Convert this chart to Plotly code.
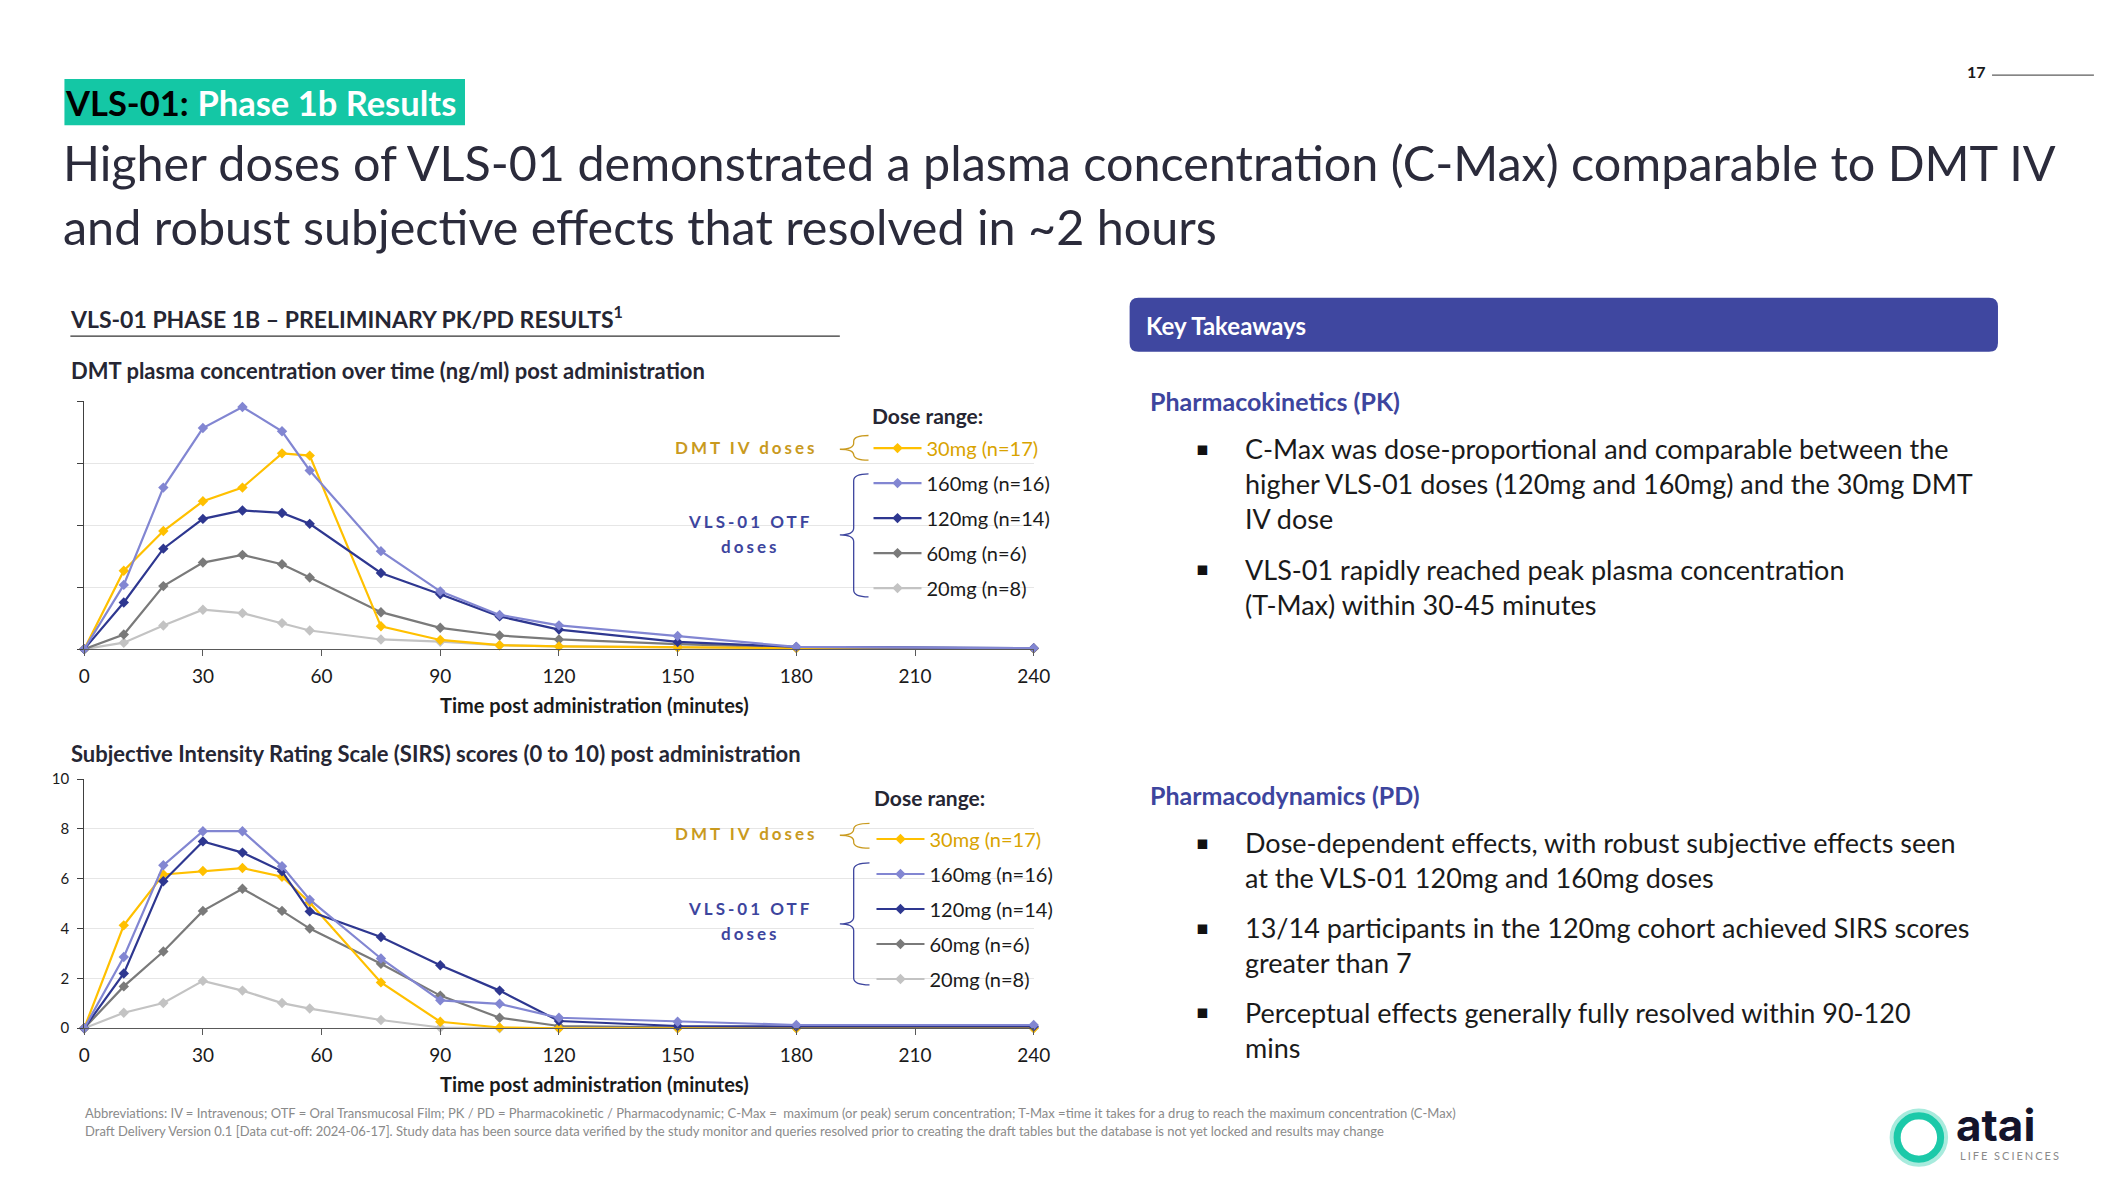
import plotly.graph_objects as go

# --- data ---
minutes = [0, 10, 20, 30, 40, 50, 57, 75, 90, 105, 120, 150, 180, 240]

dose_names = ["30mg (n=17)", "160mg (n=16)", "120mg (n=14)", "60mg (n=6)", "20mg (n=8)"]
dose_colors = ["#FFC000", "#8286D2", "#2E3790", "#7A7A7A", "#C3C3C3"]

# DMT plasma concentration (axis has no printed values, scale 0-100)
pk_30 = [0, 31.6, 47.6, 59.6, 65.1, 78.9, 78.0, 9.2, 3.7, 1.6, 1.1, 0.7, 0.4, 0.3]
pk_160 = [0, 25.9, 65.1, 89.1, 97.6, 87.8, 72.0, 39.5, 23.3, 13.8, 9.6, 5.3, 0.9, 0.4]
pk_120 = [0, 18.8, 40.5, 52.5, 55.9, 54.9, 50.5, 30.7, 22.1, 13.2, 7.9, 2.9, 0.9, 0.4]
pk_60 = [0, 5.9, 25.4, 34.9, 38.0, 34.2, 28.9, 14.9, 8.6, 5.5, 3.9, 2.0, 0.7, 0.3]
pk_20 = [0, 2.6, 9.5, 15.9, 14.5, 10.5, 7.5, 3.9, 3.0, 1.6, 1.1, 0.7, 0.4, 0.3]

# SIRS scores (0 to 10)
sirs_30 = [0, 4.13, 6.17, 6.31, 6.43, 6.08, 5.05, 1.84, 0.26, 0.03, 0, 0, 0, 0]
sirs_160 = [0, 2.86, 6.54, 7.91, 7.91, 6.5, 5.16, 2.8, 1.12, 0.98, 0.42, 0.26, 0.13, 0.13]
sirs_120 = [0, 2.2, 5.9, 7.5, 7.05, 6.3, 4.69, 3.66, 2.53, 1.51, 0.29, 0.09, 0.07, 0.07]
sirs_60 = [0, 1.68, 3.08, 4.71, 5.6, 4.71, 4.0, 2.59, 1.31, 0.42, 0.09, 0.04, 0.04, 0.04]
sirs_20 = [0, 0.62, 1.01, 1.9, 1.51, 1.01, 0.79, 0.33, 0.03, 0, 0, 0, 0, 0]

pk_series = [pk_30, pk_160, pk_120, pk_60, pk_20]
sirs_series = [sirs_30, sirs_160, sirs_120, sirs_60, sirs_20]

W, H = 2111, 1187
# the page body keeps its 8px margin, so the figure is drawn 16px smaller
FW, FH = W - 16, H - 16
FONT = "Lato"
NAVY = "#3D459E"
GOLD = "#C99A1E"
DARK = "#262633"


def px(x):
    return (x - 8) / FW


def py(y):
    return 1 - (y - 8) / FH


fig = go.Figure()

# draw order: light ones first, legend order by rank
draw_order = [4, 3, 0, 2, 1]
for i in draw_order:
    txt_col = "#D9A300" if i == 0 else "#1a1a1a"
    fig.add_trace(go.Scatter(
        x=minutes, y=pk_series[i], mode="lines+markers",
        name=f"<span style='color:{txt_col}'>{dose_names[i]}</span>",
        line=dict(color=dose_colors[i], width=2.2),
        marker=dict(symbol="diamond", size=8, color=dose_colors[i]),
        legend="legend", legendgroup=f"pk{i}", legendrank=i + 1,
        cliponaxis=False, xaxis="x", yaxis="y"))
for i in draw_order:
    txt_col = "#D9A300" if i == 0 else "#1a1a1a"
    fig.add_trace(go.Scatter(
        x=minutes, y=sirs_series[i], mode="lines+markers",
        name=f"<span style='color:{txt_col}'>{dose_names[i]}</span>",
        line=dict(color=dose_colors[i], width=2.2),
        marker=dict(symbol="diamond", size=8, color=dose_colors[i]),
        legend="legend2", legendgroup=f"sirs{i}", legendrank=i + 1,
        cliponaxis=False, xaxis="x2", yaxis="y2"))

xax = dict(range=[0, 240], tick0=0, dtick=30, showgrid=False, zeroline=False,
           showline=True, linecolor="#595959", linewidth=1.3,
           ticks="outside", ticklen=6, tickcolor="#595959",
           tickfont=dict(family=FONT, size=19, color="#1a1a1a"),
           ticklabelstandoff=4, domain=[px(79), px(1039)])
fig.update_layout(
    xaxis=dict(xax, anchor="y"),
    xaxis2=dict(xax, anchor="y2"),
    yaxis=dict(range=[0, 100], dtick=25, showgrid=True, gridcolor="#E6E6E6",
               zeroline=False, showline=True, linecolor="#404040", linewidth=1.2,
               ticks="outside", ticklen=6, tickcolor="#404040",
               showticklabels=False, domain=[py(649), py(397)], anchor="x"),
    yaxis2=dict(range=[0, 10], dtick=2, showgrid=True, gridcolor="#E6E6E6",
                zeroline=False, showline=True, linecolor="#404040", linewidth=1.2,
                ticks="outside", ticklen=6, tickcolor="#404040",
                tickfont=dict(family=FONT, size=15, color="#1a1a1a"),
                ticklabelstandoff=5,
                domain=[py(1034), py(781)], anchor="x2"),
)

leg = dict(xanchor="left", yanchor="top", bgcolor="rgba(0,0,0,0)",
           font=dict(family=FONT, size=20, color="#1a1a1a"),
           itemwidth=48, tracegroupgap=6, traceorder="grouped", itemclick=False)
fig.update_layout(
    legend=dict(leg, x=px(872), y=py(425)),
    legend2=dict(leg, x=px(875), y=py(822)),
)

ann = []
shapes = []


def text(s, x, y, size, color=DARK, bold=False, xanchor="left", family=FONT):
    if bold:
        s = f"<b>{s}</b>"
    ann.append(dict(text=s, x=px(x), y=py(y), xref="paper", yref="paper",
                    xanchor=xanchor, yanchor="middle", showarrow=False, align=xanchor,
                    font=dict(family=family, size=size, color=color)))


def brace(x_tip, x_v, x_end, y_top, y_bot, y_mid, color, r=7):
    pts = [
        f"M{px(x_end)},{py(y_top)}",
        f"Q{px(x_v)},{py(y_top)} {px(x_v)},{py(y_top + r)}",
        f"L{px(x_v)},{py(y_mid - r)}",
        f"Q{px(x_v)},{py(y_mid)} {px(x_tip)},{py(y_mid)}",
        f"Q{px(x_v)},{py(y_mid)} {px(x_v)},{py(y_mid + r)}",
        f"L{px(x_v)},{py(y_bot - r)}",
        f"Q{px(x_v)},{py(y_bot)} {px(x_end)},{py(y_bot)}",
    ]
    shapes.append(dict(type="path", path=" ".join(pts), xref="paper", yref="paper",
                       line=dict(color=color, width=1.3)))


# header tag
shapes.append(dict(type="rect", xref="paper", yref="paper", x0=px(59), x1=px(464),
                   y0=py(117), y1=py(70), fillcolor="#14C7A5", line=dict(width=0)))
text("<b>VLS-01:</b> <b><span style='color:white'>Phase 1b Results</span></b>",
     58, 94, 34.5, color="#000000")

# title
text("Higher doses of VLS-01 demonstrated a plasma concentration (C-Max) comparable to DMT IV",
     56, 154, 48.5, color="#2B2B3B")
text("and robust subjective effects that resolved in ~2 hours", 56, 219, 48.5, color="#2B2B3B")

# page number
text("17", 1992, 62, 16, color="#1a1a1a", bold=True, xanchor="center")
shapes.append(dict(type="line", xref="paper", yref="paper", x0=px(2008), x1=px(2111),
                   y0=py(66), y1=py(66), line=dict(color="#333333", width=1)))

# left section heading
text("VLS-01 PHASE 1B – PRELIMINARY PK/PD RESULTS<sup>1</sup>", 63, 312, 23, bold=True)
shapes.append(dict(type="line", xref="paper", yref="paper", x0=px(65), x1=px(843),
                   y0=py(331), y1=py(331), line=dict(color="#333333", width=1.3)))
text("DMT plasma concentration over time (ng/ml) post administration", 64, 366, 22, bold=True)
text("Subjective Intensity Rating Scale (SIRS) scores (0 to 10) post administration",
     64, 755, 22, bold=True)

# legend headings
text("Dose range:", 873, 412, 21, bold=True)
text("Dose range:", 876, 800, 21, bold=True)

# axis titles
text("Time post administration (minutes)", 595, 706, 20, color="#1a1a1a", bold=True, xanchor="center")
text("Time post administration (minutes)", 595, 1091, 20, color="#1a1a1a", bold=True, xanchor="center")

# dose group labels and braces
for y_dmt, y_otf in [(444, 519), (836, 912)]:
    text("<span style='letter-spacing:3px'>DMT IV doses</span>", 749, y_dmt,
         17, color=GOLD, bold=True, xanchor="center")
    text("<span style='letter-spacing:3px'>VLS-01 OTF</span>", 752, y_otf,
         17, color=NAVY, bold=True, xanchor="center")
    text("<span style='letter-spacing:3px'>doses</span>", 752, y_otf + 26,
         17, color=NAVY, bold=True, xanchor="center")
brace(843, 857, 872, 432, 457, 446, GOLD, r=6)
brace(843, 857, 872, 471, 596, 533, NAVY)
brace(843, 857, 873, 826, 851, 838, GOLD, r=6)
brace(843, 857, 873, 866, 990, 928, NAVY)

# key takeaways panel
x0, x1, y0, y1, r = 1136, 2014, 292, 347, 9
box = (f"M{px(x0 + r)},{py(y0)} L{px(x1 - r)},{py(y0)} Q{px(x1)},{py(y0)} {px(x1)},{py(y0 + r)} "
       f"L{px(x1)},{py(y1 - r)} Q{px(x1)},{py(y1)} {px(x1 - r)},{py(y1)} "
       f"L{px(x0 + r)},{py(y1)} Q{px(x0)},{py(y1)} {px(x0)},{py(y1 - r)} "
       f"L{px(x0)},{py(y0 + r)} Q{px(x0)},{py(y0)} {px(x0 + r)},{py(y0)} Z")
shapes.append(dict(type="path", path=box, xref="paper", yref="paper",
                   fillcolor="#3F47A0", line=dict(width=0)))
text("Key Takeaways", 1151, 320, 24, color="white", bold=True)

text("Pharmacokinetics (PK)", 1155, 397, 25, color=NAVY, bold=True)
text("Pharmacodynamics (PD)", 1155, 797, 25, color=NAVY, bold=True)

pk_bullets = [
    ["C-Max was dose-proportional and comparable between the",
     "higher VLS-01 doses (120mg and 160mg) and the 30mg DMT",
     "IV dose"],
    ["VLS-01 rapidly reached peak plasma concentration",
     "(T-Max) within 30-45 minutes"],
]
pd_bullets = [
    ["Dose-dependent effects, with robust subjective effects seen",
     "at the VLS-01 120mg and 160mg doses"],
    ["13/14 participants in the 120mg cohort achieved SIRS scores",
     "greater than 7"],
    ["Perceptual effects generally fully resolved within 90-120",
     "mins"],
]
for lines, ys in zip(pk_bullets + pd_bullets, [446, 568, 846, 932, 1018]):
    text("▪", 1210, ys - 1, 19, color="#111111", xanchor="center", family="DejaVu Sans")
    mid = ys + 35.1 * (len(lines) - 1) / 2
    text("<br>".join(lines), 1251, mid, 27, color="#1a1a1a")

# footnotes
text("Abbreviations: IV = Intravenous; OTF = Oral Transmucosal Film; PK / PD = Pharmacokinetic / Pharmacodynamic; "
     "C-Max =  maximum (or peak) serum concentration; T-Max =time it takes for a drug to reach the maximum concentration (C-Max)",
     78, 1120, 13, color="#8A8A8A")
text("Draft Delivery Version 0.1 [Data cut-off: 2024-06-17]. Study data has been source data verified by the study monitor "
     "and queries resolved prior to creating the draft tables but the database is not yet locked and results may change",
     78, 1138, 13, color="#8A8A8A")

# logo
cx, cy = 1934, 1145
shapes.append(dict(type="circle", xref="paper", yref="paper", x0=px(cx - 24), x1=px(cx + 24),
                   y0=py(cy + 24), y1=py(cy - 24), line=dict(color="#A8EBDD", width=11)))
shapes.append(dict(type="circle", xref="paper", yref="paper", x0=px(cx - 22), x1=px(cx + 22),
                   y0=py(cy + 22), y1=py(cy - 22), line=dict(color="#1CC9A9", width=7)))
text("atai", 1970, 1132, 44, color="#14142B", bold=True, family="Inter")
text("<span style='letter-spacing:2px'>LIFE SCIENCES</span>", 1974, 1163, 11, color="#8A8A8A")

fig.update_layout(
    width=FW, height=FH, margin=dict(l=0, r=0, t=0, b=0),
    paper_bgcolor="white", plot_bgcolor="white",
    annotations=ann, shapes=shapes, showlegend=True,
    font=dict(family=FONT),
)

fig.write_html("out.html")
